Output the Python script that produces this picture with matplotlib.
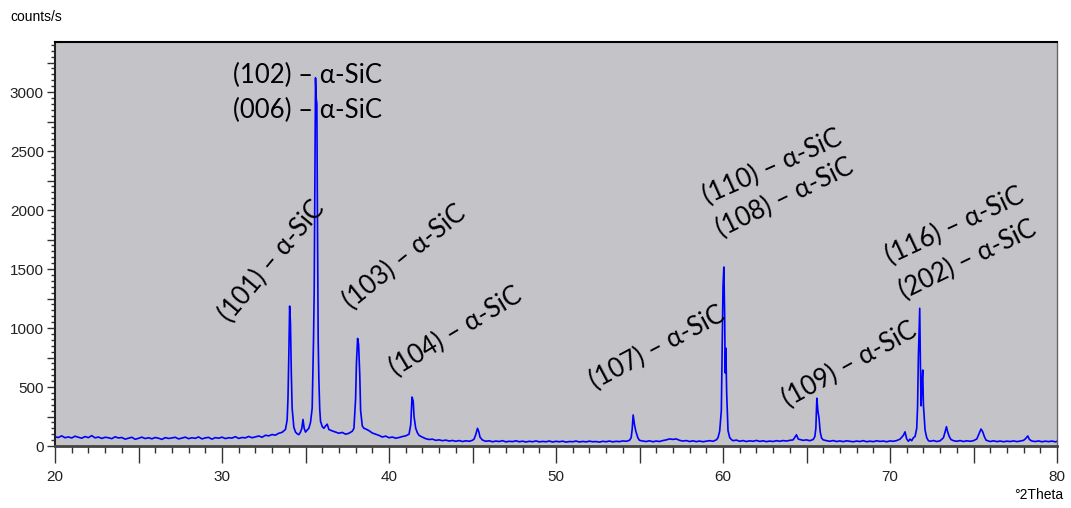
import matplotlib
matplotlib.use("Agg")
import matplotlib.pyplot as plt
from matplotlib.ticker import MultipleLocator, FuncFormatter

# ---- data ----
two_theta = [
    20.0, 20.2, 20.4, 20.6, 20.8, 21.0, 21.2, 21.4, 21.6, 21.8, 22.0, 22.2, 22.4, 22.6, 22.8,
    23.0, 23.2, 23.4, 23.6, 23.8, 24.0, 24.2, 24.4, 24.6, 24.8, 25.0, 25.2, 25.4, 25.6, 25.8,
    26.0, 26.2, 26.4, 26.6, 26.8, 27.0, 27.2, 27.4, 27.6, 27.8, 28.0, 28.2, 28.4, 28.6, 28.8,
    29.0, 29.2, 29.4, 29.6, 29.8, 30.0, 30.2, 30.4, 30.6, 30.8, 31.0, 31.2, 31.4, 31.6, 31.8,
    32.0, 32.2, 32.4, 32.6, 32.8, 33.0, 33.2, 33.4, 33.6, 33.8,
    33.9, 33.95, 34.0, 34.05, 34.1, 34.15, 34.2, 34.3, 34.4, 34.5, 34.6, 34.7, 34.78, 34.85,
    34.92, 35.0, 35.1, 35.2, 35.3, 35.4, 35.48, 35.52, 35.56, 35.6, 35.64, 35.68, 35.72, 35.76,
    35.8, 35.85, 35.9, 36.0, 36.1, 36.2, 36.3, 36.4, 36.6, 36.8, 37.0, 37.2, 37.4, 37.6, 37.8,
    37.9, 38.0, 38.05, 38.12, 38.18, 38.25, 38.3, 38.4, 38.5, 38.6, 38.8, 39.0, 39.2, 39.4,
    39.6, 39.8, 40.0, 40.2, 40.4, 40.6, 40.8, 41.0, 41.2, 41.3, 41.38, 41.45, 41.5, 41.6, 41.7,
    41.8, 42.0, 42.2, 42.4, 42.6, 42.8, 43.0, 43.2, 43.4, 43.6, 43.8, 44.0, 44.2, 44.4, 44.6,
    44.8, 45.0, 45.1, 45.2, 45.3, 45.38, 45.45, 45.6, 45.8, 46.0, 46.2, 46.4, 46.6, 46.8, 47.0,
    47.2, 47.4, 47.6, 47.8, 48.0, 48.2, 48.4, 48.6, 48.8, 49.0, 49.2, 49.4, 49.6, 49.8, 50.0,
    50.2, 50.4, 50.6, 50.8, 51.0, 51.2, 51.4, 51.6, 51.8, 52.0, 52.2, 52.4, 52.6, 52.8, 53.0,
    53.2, 53.4, 53.6, 53.8, 54.0, 54.2, 54.4, 54.5, 54.56, 54.62, 54.7, 54.78, 54.9, 55.0,
    55.2, 55.4, 55.6, 55.8, 56.0, 56.2, 56.4, 56.6, 56.8, 57.0, 57.2, 57.4, 57.6, 57.8, 58.0,
    58.2, 58.4, 58.6, 58.8, 59.0, 59.2, 59.4, 59.6, 59.7, 59.8, 59.9, 59.96, 60.0, 60.05,
    60.1, 60.13, 60.17, 60.22, 60.3, 60.4, 60.5, 60.6, 60.8, 61.0, 61.2, 61.4, 61.6, 61.8,
    62.0, 62.2, 62.4, 62.6, 62.8, 63.0, 63.2, 63.4, 63.6, 63.8, 64.0, 64.2, 64.4, 64.5, 64.6,
    64.8, 65.0, 65.2, 65.4, 65.5, 65.56, 65.62, 65.68, 65.75, 65.82, 65.9, 66.0, 66.2, 66.4,
    66.6, 66.8, 67.0, 67.2, 67.4, 67.6, 67.8, 68.0, 68.2, 68.4, 68.6, 68.8, 69.0, 69.2, 69.4,
    69.6, 69.8, 70.0, 70.2, 70.4, 70.6, 70.8, 70.9, 71.0, 71.1, 71.2, 71.3, 71.4, 71.5, 71.6,
    71.65, 71.7, 71.78, 71.82, 71.86, 71.92, 71.96, 72.0, 72.1, 72.2, 72.3, 72.4, 72.6, 72.8,
    73.0, 73.2, 73.3, 73.38, 73.45, 73.55, 73.65, 73.8, 74.0, 74.2, 74.4, 74.6, 74.8, 75.0,
    75.2, 75.35, 75.45, 75.55, 75.65, 75.75, 75.9, 76.0, 76.2, 76.4, 76.6, 76.8, 77.0, 77.2,
    77.4, 77.6, 77.8, 78.0, 78.1, 78.25, 78.35, 78.5, 78.7, 78.9, 79.1, 79.3, 79.5, 79.7,
    79.9, 80.0,
]
counts = [
    78, 72, 86, 70, 77, 68, 83, 74, 66, 80, 71, 88, 69, 76, 64,
    74, 70, 62, 78, 68, 72, 58, 66, 74, 57, 65, 75, 63, 70, 61,
    72, 66, 56, 71, 64, 68, 74, 60, 67, 75, 62, 70, 65, 77, 60,
    69, 73, 58, 71, 66, 75, 63, 70, 67, 79, 64, 72, 69, 81, 70,
    77, 85, 74, 91, 86, 97, 92, 108, 116, 140,
    220, 400, 760, 1186, 1040, 620, 320, 160, 118, 104, 96, 118, 150, 225,
    150, 118, 135, 150, 200, 320, 900, 1300, 2200, 3120, 2950, 2900, 1800, 900,
    570, 320, 210, 165, 150, 170, 185, 140, 128, 118, 108, 115, 100, 108, 125,
    150, 400, 700, 912, 860, 600, 300, 170, 150, 145, 130, 110, 100, 90,
    76, 84, 70, 76, 66, 72, 80, 86, 100, 180, 415, 380, 250, 150, 112,
    90, 75, 62, 55, 58, 48, 52, 45, 50, 42, 47, 40, 46, 38, 44,
    40, 48, 60, 100, 150, 120, 75, 50, 40, 44, 36, 42, 38, 45, 35,
    40, 37, 44, 36, 41, 34, 40, 36, 43, 35, 39, 36, 42, 34, 40,
    36, 41, 33, 38, 36, 42, 34, 39, 35, 41, 36, 38, 33, 40, 36,
    42, 35, 40, 37, 43, 40, 48, 70, 140, 263, 180, 125, 70, 48,
    42, 38, 44, 36, 42, 38, 46, 52, 60, 56, 60, 48, 42, 46, 38,
    44, 37, 42, 36, 41, 45, 40, 52, 70, 125, 300, 900, 1350, 1517,
    1100, 620, 830, 450, 130, 72, 55, 45, 50, 40, 46, 38, 44, 40,
    47, 39, 44, 37, 42, 38, 45, 40, 46, 42, 48, 52, 95, 60, 55,
    48, 52, 45, 55, 80, 150, 405, 300, 237, 120, 68, 52, 45, 40,
    46, 38, 43, 37, 44, 40, 36, 42, 38, 45, 36, 41, 37, 44, 39,
    42, 36, 43, 40, 46, 58, 90, 120, 60, 40, 58, 45, 70, 80, 150,
    330, 760, 1167, 700, 340, 560, 644, 350, 135, 70, 45, 40, 46, 38,
    44, 70, 120, 164, 121, 80, 55, 45, 40, 46, 38, 44, 40, 45,
    60, 110, 144, 121, 80, 50, 42, 38, 44, 37, 42, 36, 41, 38,
    43, 37, 42, 48, 60, 85, 55, 42, 38, 43, 36, 41, 37, 42,
    35, 40,
]

peak_labels = [
    "(102) – α-SiC", "(006) – α-SiC", "(101) – α-SiC", "(103) – α-SiC",
    "(104) – α-SiC", "(107) – α-SiC", "(109) – α-SiC", "(110) – α-SiC",
    "(108) – α-SiC", "(116) – α-SiC", "(202) – α-SiC",
]
label_x = [30.66, 30.66, 30.48, 37.78, 40.42, 52.34, 63.89, 59.04, 59.88, 70.0, 70.84]
label_y = [3076, 2780, 1042, 1153, 585, 475, 322, 2051, 1771, 1542, 1246]
label_rot = [0, 0, 50, 39, 31, 28, 29, 24, 26, 25, 26]

x_ticks = [20, 30, 40, 50, 60, 70, 80]
y_ticks = [0, 500, 1000, 1500, 2000, 2500, 3000]

# ---- figure ----
W, H = 1071, 508
fig = plt.figure(figsize=(W / 100, H / 100), dpi=100)
fig.patch.set_facecolor("white")
ax = fig.add_axes([55 / W, 1 - 446 / H, (1057 - 55) / W, (446 - 42) / H])
ax.set_facecolor("#c4c3c7")

ax.plot(two_theta, counts, color="#0000ff", lw=1.2)

ax.set_xlim(20, 80)
ax.set_ylim(0, 3424)

tick_font = ["Liberation Sans Narrow", "Liberation Sans", "DejaVu Sans"]
ax.xaxis.set_major_locator(MultipleLocator(5))
ax.xaxis.set_minor_locator(MultipleLocator(1))
ax.xaxis.set_major_formatter(FuncFormatter(lambda v, p: f"{int(round(v))}" if round(v) in x_ticks else ""))
ax.yaxis.set_major_locator(MultipleLocator(250))
ax.yaxis.set_minor_locator(MultipleLocator(50))
ax.yaxis.set_major_formatter(FuncFormatter(lambda v, p: f"{int(round(v))}" if round(v) in y_ticks else ""))

ax.tick_params(axis="x", which="major", length=12, width=1, color="#333333", pad=5, direction="out")
ax.tick_params(axis="x", which="minor", length=5, width=1, color="#333333", direction="out")
ax.tick_params(axis="y", which="major", length=6, width=1, color="#333333", pad=2, direction="out")
ax.tick_params(axis="y", which="minor", length=3, width=1, color="#333333", direction="out")
for lab in ax.get_xticklabels() + ax.get_yticklabels():
    lab.set_fontfamily(tick_font)
    lab.set_fontsize(11)
    lab.set_color("#222222")

ax.spines["top"].set_color("black")
ax.spines["top"].set_linewidth(1.5)
ax.spines["left"].set_color("#222222")
ax.spines["left"].set_linewidth(1.5)
ax.spines["bottom"].set_color("#444444")
ax.spines["bottom"].set_linewidth(2)
ax.spines["right"].set_color("#666666")
ax.spines["right"].set_linewidth(1)

label_font = ["Lato", "Noto Sans", "DejaVu Sans"]
for t, x, y, r in zip(peak_labels, label_x, label_y, label_rot):
    ax.text(x, y, t, rotation=r, rotation_mode="anchor", ha="left", va="baseline",
            fontsize=18.5, family=label_font, color="black")

fig.text(10 / W, 1 - 17 / H, "counts/s", fontsize=10, family=tick_font, va="center", ha="left")
fig.text(1063 / W, 1 - 495 / H, "°2Theta", fontsize=10, family=tick_font, va="center", ha="right")

fig.savefig("out.png", dpi=100)
